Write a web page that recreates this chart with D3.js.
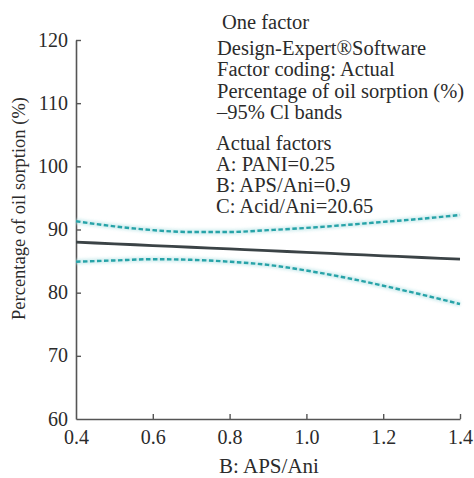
<!DOCTYPE html>
<html>
<head>
<meta charset="utf-8">
<script src="https://cdn.jsdelivr.net/npm/d3@7"></script>
<style>
  html, body { margin: 0; padding: 0; background: #fff; }
  svg { display: block; }
  text { font-family: "Liberation Serif", "DejaVu Serif", serif; fill: #2b2b2b; }
</style>
</head>
<body>
<svg id="chart" width="474" height="478"></svg>
<script>
// APS/Ani factor levels
const apsAni = [0.4, 0.5, 0.6, 0.7, 0.8, 0.9, 1.0, 1.1, 1.2, 1.3, 1.4];
// Predicted oil sorption (%) and 95% confidence band limits
const predicted = [88.0, 87.73, 87.46, 87.19, 86.92, 86.65, 86.38, 86.11, 85.84, 85.57, 85.3];
const upperCI  = [91.3, 90.5, 89.9, 89.6, 89.6, 89.9, 90.25, 90.7, 91.2, 91.7, 92.3];
const lowerCI  = [84.9, 85.1, 85.3, 85.2, 84.9, 84.4, 83.5, 82.4, 81.1, 79.7, 78.2];
const xTicks = [0.4, 0.6, 0.8, 1.0, 1.2, 1.4];
const yTicks = [60, 70, 80, 90, 100, 110, 120];
const infoLines = [
  "Design-Expert®Software",
  "Factor coding: Actual",
  "Percentage of oil sorption (%)",
  "–95% Cl bands"
];
const factorLines = [
  "Actual factors",
  "A: PANI=0.25",
  "B: APS/Ani=0.9",
  "C: Acid/Ani=20.65"
];

const svg = d3.select("#chart");
const m = { left: 76, right: 14, top: 40, bottom: 59 };
const W = 474, H = 478;
const serif = '"Liberation Serif", "DejaVu Serif", serif';

const x = d3.scaleLinear().domain([0.4, 1.4]).range([m.left, W - m.right]);
const y = d3.scaleLinear().domain([60, 120]).range([H - m.bottom, m.top]);

const axisColor = "#555";

// Axes with inward ticks
const gx = svg.append("g").attr("transform", `translate(0,${y(60)})`)
  .call(d3.axisBottom(x).tickValues(xTicks).tickSizeInner(-5).tickSizeOuter(0)
    .tickFormat(d3.format(".1f")).tickPadding(7));
const gy = svg.append("g").attr("transform", `translate(${x(0.4)},0)`)
  .call(d3.axisLeft(y).tickValues(yTicks).tickSizeInner(-5).tickSizeOuter(0).tickPadding(8));

[gx, gy].forEach(g => {
  g.attr("font-family", null).attr("font-size", null);
  g.select(".domain").attr("stroke", axisColor).attr("stroke-width", 1.6);
  g.selectAll(".tick line").attr("stroke", axisColor).attr("stroke-width", 1.4);
  g.selectAll(".tick text").style("font-family", serif)
    .style("font-size", "20px").attr("fill", "#2b2b2b");
});
gx.selectAll(".tick text").attr("dy", "0.9em");
gy.selectAll(".tick text").attr("dy", "0.3em");
gx.selectAll(".tick").filter(d => d === 0.4).select("line").remove();
gy.selectAll(".tick").filter(d => d === 60).select("line").remove();

// Axis titles
svg.append("text").attr("x", (x(0.4) + x(1.4)) / 2 + 1).attr("y", 473)
  .attr("text-anchor", "middle").style("font-size", "21px").text("B: APS/Ani");
svg.append("text")
  .attr("transform", `translate(25,${(y(60) + y(120)) / 2 - 21}) rotate(-90)`)
  .attr("text-anchor", "middle").style("font-size", "18.5px")
  .text("Percentage of oil sorption (%)");

// Curves
const line = d3.line().x(d => x(d[0])).y(d => y(d[1])).curve(d3.curveMonotoneX);
const band = (vals) => apsAni.map((a, i) => [a, vals[i]]);

const glow = svg.append("defs").append("filter").attr("id", "soft")
  .attr("x", "-5%").attr("y", "-50%").attr("width", "110%").attr("height", "200%");
glow.append("feGaussianBlur").attr("stdDeviation", 1.6);

[upperCI, lowerCI].forEach(vals => {
  svg.append("path").datum(band(vals)).attr("d", line)
    .attr("fill", "none").attr("stroke", "#c4e8ea").attr("stroke-width", 5)
    .attr("filter", "url(#soft)").attr("opacity", 0.8);
  svg.append("path").datum(band(vals)).attr("d", line)
    .attr("fill", "none").attr("stroke", "#27a3a8").attr("stroke-width", 2.4)
    .attr("stroke-dasharray", "4.5,2.5");
});

svg.append("path").datum(band(predicted)).attr("d", line)
  .attr("fill", "none").attr("stroke", "#3b4346").attr("stroke-width", 2.8);

// Annotation block
svg.append("text").attr("x", 222).attr("y", 29).style("font-size", "20.5px").text("One factor");
infoLines.forEach((t, i) => {
  svg.append("text").attr("x", 217).attr("y", 55 + i * 21.3).style("font-size", "20.5px").text(t);
});
factorLines.forEach((t, i) => {
  svg.append("text").attr("x", 216).attr("y", 150 + i * 21).style("font-size", "20.5px").text(t);
});
</script>
</body>
</html>
